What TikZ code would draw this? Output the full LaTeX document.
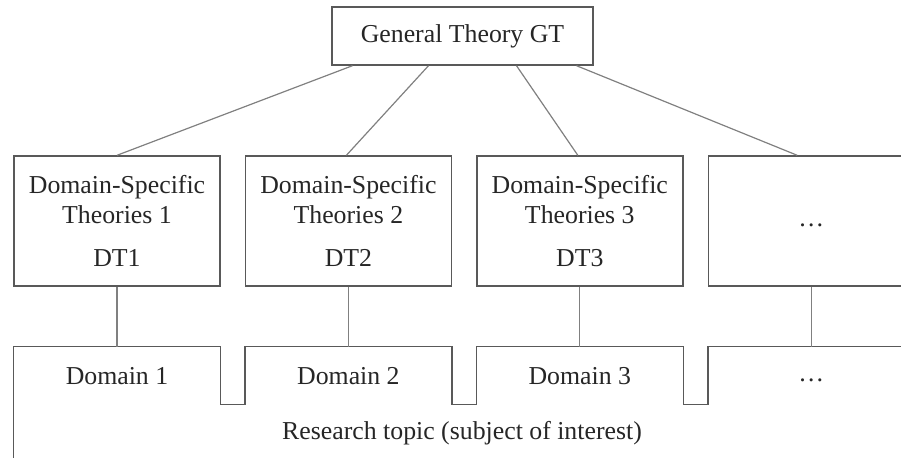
\documentclass[tikz,border=0pt]{standalone}
\usepackage{fontspec}
\setmainfont{Liberation Serif}
\usetikzlibrary{positioning}
\tikzset{
	every node/.style={font=\fontsize{12.9pt}{15pt}\selectfont, text=black!85}, % Times-like text
	general/.style={draw=black!65, line width=0.7pt, minimum width=130.5pt, minimum height=29pt},
	theory/.style={draw=black!65, line width=0.7pt, minimum width=103pt, minimum height=65pt, align=center, inner sep=2pt},
	domtab/.style={minimum width=103pt, minimum height=28.5pt, inner sep=0pt}, % tabs of the topic shape
	link/.style={draw=black!50, line width=0.6pt},
}

\begin{document}
\begin{tikzpicture}[x=0.5pt, y=-0.5pt]
		\useasboundingbox (0,0) rectangle (901,458);
		
		\node[general] (gt) at (462.5,36) {General Theory GT};
		
		\node[theory] (dt1) at (117,221) {Domain-Specific\\Theories 1\\[6.5pt]DT1};
		\node[theory,right=12pt of dt1] (dt2) {Domain-Specific\\Theories 2\\[6.5pt]DT2};
		\node[theory,right=12pt of dt2] (dt3) {Domain-Specific\\Theories 3\\[6.5pt]DT3};
		\node[theory,right=12pt of dt3] (dt4) {\strut\dots};
		
		\node[domtab,below=30pt of dt1] (dom1) {Domain 1};
		\node[domtab,below=30pt of dt2] (dom2) {Domain 2};
		\node[domtab,below=30pt of dt3] (dom3) {Domain 3};
		\node[domtab,below=30pt of dt4] (dom4) {\strut\dots};
		
		\node (topic) at (462,433) {Research topic (subject of interest)};
		\coordinate (floor) at (0,470);
		
		% outline of the research topic with its domain tabs
		\draw[black!65, line width=0.7pt]
			(dom1.north west |- floor) -- (dom1.north west) -- (dom1.north east) -- (dom1.south east)
			-- (dom2.south west) -- (dom2.north west) -- (dom2.north east) -- (dom2.south east)
			-- (dom3.south west) -- (dom3.north west) -- (dom3.north east) -- (dom3.south east)
			-- (dom4.south west) -- (dom4.north west) -- (dom4.north east) -- (dom4.north east |- floor);
		
		\draw[link] ([xshift=-55pt]gt.south) -- (dt1.north);
		\draw[link] ([xshift=-17pt]gt.south) -- ([xshift=-1pt]dt2.north);
		\draw[link] ([xshift=27pt]gt.south) -- ([xshift=-1pt]dt3.north);
		\draw[link] ([xshift=57pt]gt.south) -- ([xshift=-7pt]dt4.north);
		
		\draw[link] (dt1) -- (dom1);
		\draw[link] (dt2) -- (dom2);
		\draw[link] (dt3) -- (dom3);
		\draw[link] (dt4) -- (dom4);
		
	\end{tikzpicture}
\end{document}
